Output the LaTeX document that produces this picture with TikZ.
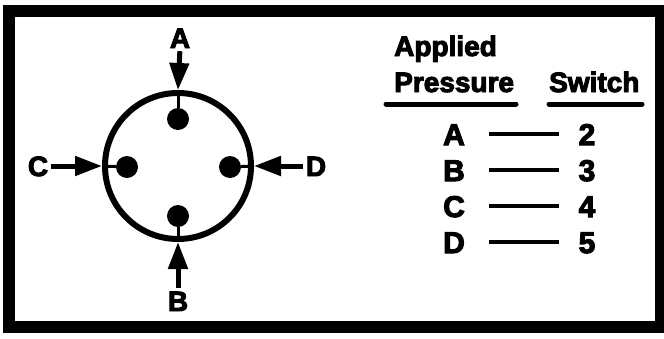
\documentclass[tikz,border=0pt]{standalone}
\usepackage{fontspec}
\usetikzlibrary{arrows.meta}
\newfontfamily\heavy{Liberation Sans Bold}[FakeBold=3.5]
\begin{document}
\begin{tikzpicture}[x=1pt,y=-1pt,
  lab/.style={font=\heavy\fontsize{28}{28}\selectfont, inner sep=0pt, text height=20pt, text depth=0pt},
  rowlab/.style={font=\heavy\fontsize{30}{30}\selectfont, inner sep=0pt, text height=22pt, text depth=0pt},
  hdr/.style={font=\heavy\fontsize{28}{28}\selectfont, inner sep=0pt, anchor=base west},
  pin/.style={line width=5pt, -{Triangle[length=27pt,width=19pt]}},
  stem/.style={line width=3pt},
  dot/.style={circle, fill=black, inner sep=0pt, minimum size=22pt},
  uline/.style={line width=5pt, line cap=round},
  link/.style={line width=4.5pt}]
\useasboundingbox (0,0) rectangle (664,338);
\fill[white] (0,0) rectangle (664,338);
% frame
\draw[line width=12pt] (9,11) rectangle (661,327);
% circle
\node[circle, draw, line width=6pt, minimum size=146pt, inner sep=0pt] (ring) at (178,166) {};
\node[dot] (dA) at (178,119) {};
\node[dot] (dB) at (178,216) {};
\node[dot] (dC) at (127,167) {};
\node[dot] (dD) at (230,167) {};
% labels
\node[lab, anchor=center] (lA) at (180,38) {A};
\node[lab, anchor=center] (lB) at (178,301) {B};
\node[lab, anchor=center] (lC) at (38,166) {C};
\node[lab, anchor=center] (lD) at (316,166) {D};
\coordinate (tA) at (ring.north);
\coordinate (tB) at (ring.south);
\coordinate (tC) at (ring.west);
\coordinate (tD) at (ring.east);
\draw[pin, shorten <=3pt] (lA.south) -- (tA);
\draw[pin, shorten <=3pt] (lB.north) -- (tB);
\draw[pin, shorten <=3pt] (lC.east) -- (tC);
\draw[pin, shorten <=3pt] (lD.west) -- (tD);
\draw[stem] (tA) -- (dA);
\draw[stem] (tB) -- (dB);
\draw[stem] (tC) -- (dC);
\draw[stem] (tD) -- (dD);
% table header
\node[hdr] (app) at (394,56) {Applied};
\node[hdr] (pre) at (394,92) {Pressure};
\node[hdr] (swi) at (549,92) {Switch};
\coordinate (u1a) at (386,104); \coordinate (u1b) at (516,104);
\coordinate (u2a) at (549,104); \coordinate (u2b) at (642,104);
\draw[uline] (u1a) -- (u1b);
\draw[uline] (u2a) -- (u2b);
% rows
\foreach \l/\n/\y in {A/2/145, B/3/181, C/4/217, D/5/253}{
  \node[rowlab, anchor=base] (r\l) at (454,\y) {\l};
  \node[rowlab, anchor=base] (n\n) at (587,\y) {\n};
  \draw[link, shorten <=24pt, shorten >=19pt] (r\l.east) -- (n\n.west);
}
\end{tikzpicture}
\end{document}
